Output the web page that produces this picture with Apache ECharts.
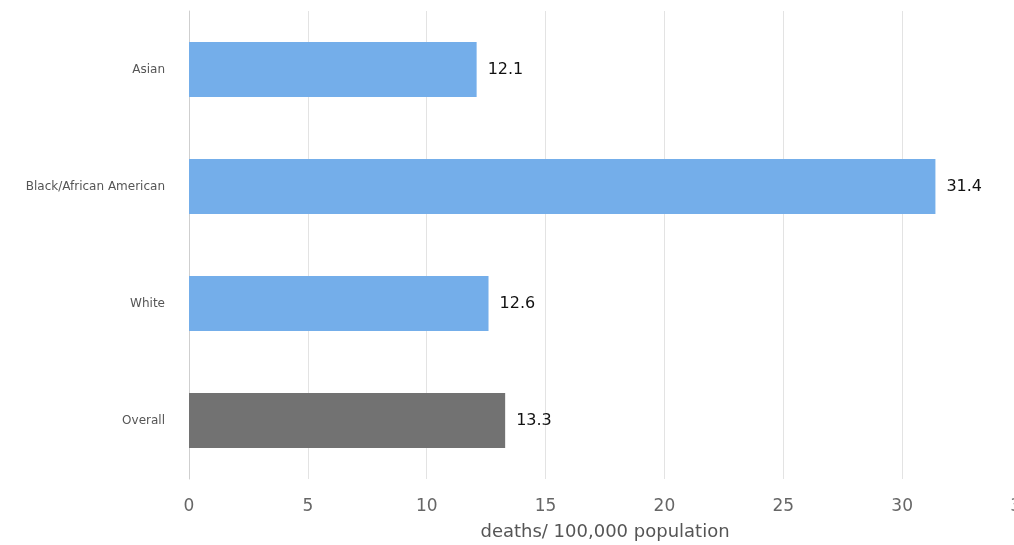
<!DOCTYPE html>
<html>
<head>
<meta charset="utf-8">
<script src="https://cdn.jsdelivr.net/npm/echarts@6/dist/echarts.min.js"></script>
<style>html,body{margin:0;padding:0;background:#fff;}#c{width:1014px;height:545px;}</style>
</head>
<body>
<div id="c"></div>
<script>
const categories = ["Asian", "Black/African American", "White", "Overall"];
const values = [12.1, 31.4, 12.6, 13.3];
const xTicks = [0, 5, 10, 15, 20, 25, 30, 35];
const axisTitle = "deaths/ 100,000 population";

const barColors = ["#74aeea", "#74aeea", "#74aeea", "#727272"];

const chart = echarts.init(document.getElementById('c'), null, {renderer: 'canvas'});
chart.setOption({
  animation: false,
  grid: {left: 189, top: 11, right: -7, bottom: 66, containLabel: false, outerBoundsMode: 'none'},
  xAxis: {
    type: 'value', min: xTicks[0], max: xTicks[xTicks.length - 1], interval: 5,
    axisLine: {show: false}, axisTick: {show: false},
    splitLine: {show: true, lineStyle: {color: '#e3e3e3', width: 1}},
    axisLabel: {color: '#666', fontSize: 17, fontFamily: 'DejaVu Sans', margin: 19, hideOverlap: false},
    name: axisTitle, nameLocation: 'middle', nameGap: 44,
    nameTextStyle: {color: '#555', fontSize: 18, fontFamily: 'DejaVu Sans'}
  },
  yAxis: {
    type: 'category', data: categories, inverse: true,
    axisLine: {show: true, lineStyle: {color: '#cfcfcf', width: 1}},
    axisTick: {show: false},
    axisLabel: {color: '#555', fontSize: 12, fontFamily: 'DejaVu Sans', margin: 24}
  },
  series: [{
    type: 'bar',
    data: values.map((v, i) => ({value: v, itemStyle: {color: barColors[i]}})),
    barWidth: '47%',
    label: {show: true, position: 'right', distance: 11, color: '#111', fontSize: 16, fontFamily: 'DejaVu Sans'}
  }]
});
</script>
</body>
</html>
